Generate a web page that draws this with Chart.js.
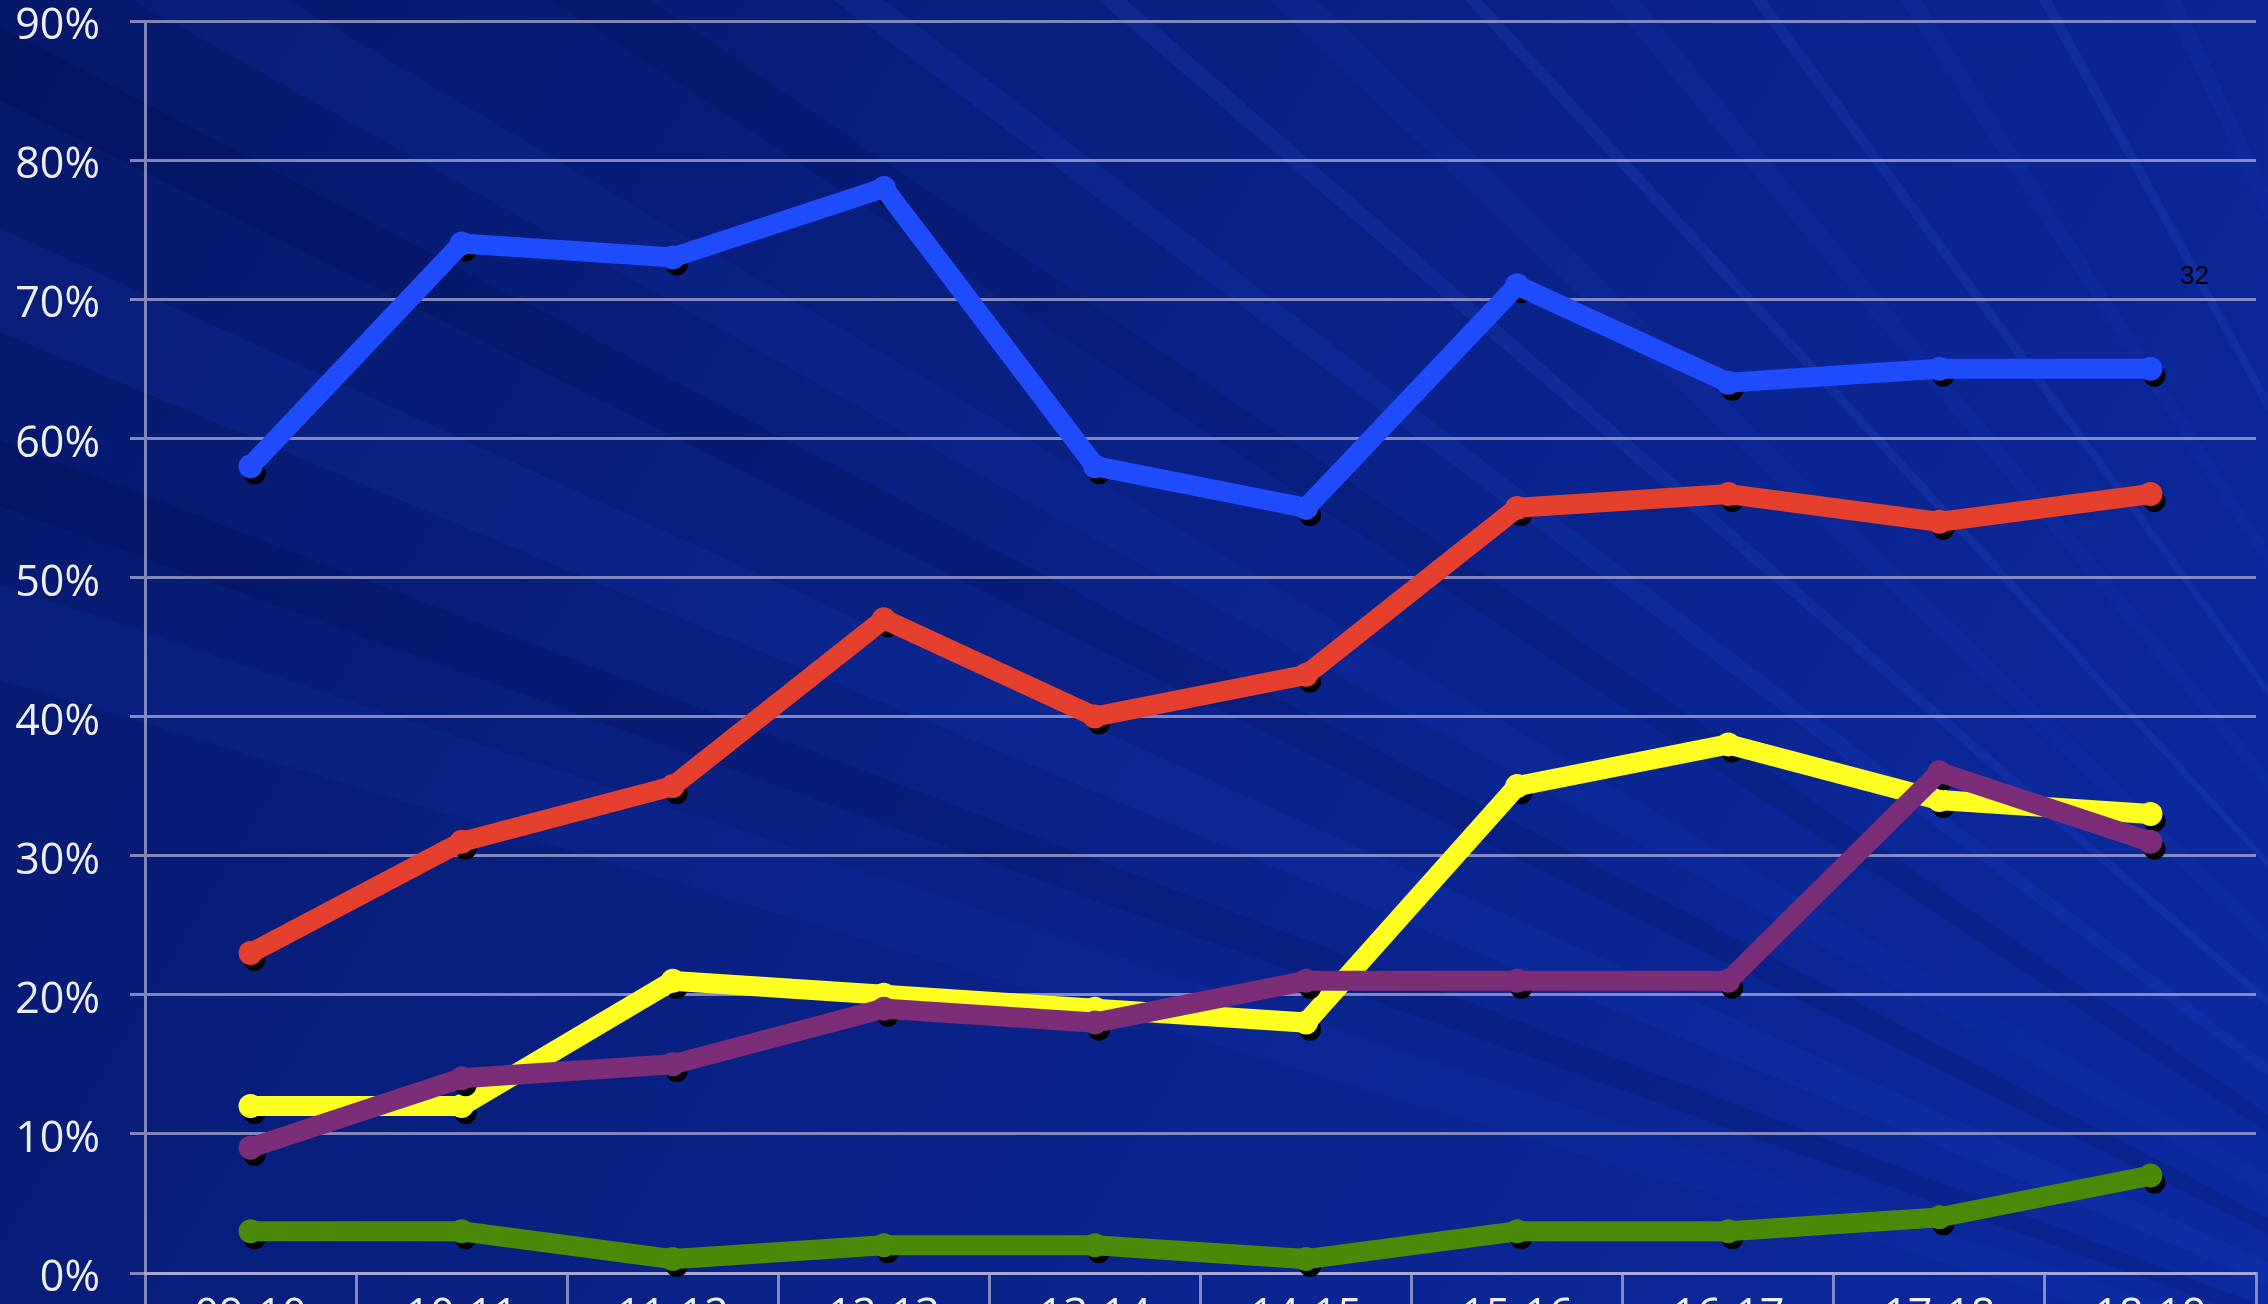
<!DOCTYPE html>
<html>
<head>
<meta charset="utf-8">
<script src="https://cdn.jsdelivr.net/npm/chart.js@4.4.1/dist/chart.umd.min.js"></script>
<style>
  html, body { margin: 0; padding: 0; overflow: hidden; background: #081e80; }
  #myChart { display: block; }
</style>
</head>
<body>
<canvas id="myChart" width="2268" height="1360"></canvas>
<script>
const seasons = ["09-10", "10-11", "11-12", "12-13", "13-14", "14-15", "15-16", "16-17", "17-18", "18-19"];

const blueValues = [58, 74, 73, 78, 58, 55, 71, 64, 65, 65];
const redValues = [23, 31, 35, 47, 40, 43, 55, 56, 54, 56];
const yellowValues = [12, 12, 21, 20, 19, 18, 35, 38, 34, 33];
const purpleValues = [9, 14, 15, 19, 18, 21, 21, 21, 36, 31];
const greenValues = [3, 3, 1, 2, 2, 1, 3, 3, 4, 7];

const yTicks = [0, 10, 20, 30, 40, 50, 60, 70, 80, 90];
const pageNumber = "32";

const gridColor = "rgba(185, 180, 215, 0.7)";
const fontFamily = "'Open Sans', 'DejaVu Sans', sans-serif";
const labelFont = { family: fontFamily, size: 43, lineHeight: 1 };

function series(values, color) {
  return {
    data: values,
    borderColor: color,
    backgroundColor: color,
    borderWidth: 20,
    pointRadius: 12,
    pointBorderWidth: 0,
    pointHoverRadius: 12,
    tension: 0,
  };
}

// slide background: dark blue with light streaks fanning out of the lower right
const backdrop = {
  id: "backdrop",
  beforeDraw(chart) {
    const c = chart.ctx;
    const w = chart.width, h = chart.height;
    c.save();
    const g = c.createLinearGradient(0, 0, w, h);
    g.addColorStop(0, "#06186a");
    g.addColorStop(0.5, "#0a2288");
    g.addColorStop(1, "#0c2ba2");
    c.fillStyle = g;
    c.fillRect(0, 0, w, h);

    const ox = 2900, oy = 1550;
    // [slope, width (rad), colour]
    const rays = [
      [0.30, 0.030, "rgba(30,70,220,0.10)"],
      [0.36, 0.020, "rgba(0,0,40,0.12)"],
      [0.42, 0.030, "rgba(30,70,220,0.12)"],
      [0.50, 0.020, "rgba(0,0,40,0.12)"],
      [0.56, 0.025, "rgba(30,70,220,0.10)"],
      [0.66, 0.020, "rgba(0,0,40,0.10)"],
      [0.75, 0.012, "rgba(50,100,255,0.10)"],
      [0.86, 0.008, "rgba(60,110,255,0.11)"],
      [0.95, 0.015, "rgba(40,80,230,0.08)"],
      [1.08, 0.006, "rgba(70,120,255,0.11)"],
      [1.20, 0.012, "rgba(40,80,230,0.08)"],
      [1.35, 0.006, "rgba(70,120,255,0.10)"],
      [1.55, 0.010, "rgba(40,80,230,0.08)"],
      [1.80, 0.006, "rgba(70,120,255,0.10)"],
      [2.10, 0.010, "rgba(40,80,230,0.08)"],
      [2.50, 0.006, "rgba(70,120,255,0.10)"],
      [3.20, 0.010, "rgba(40,80,230,0.08)"],
    ];
    rays.forEach(([s, width, color]) => {
      const a1 = Math.PI + Math.atan(s), a2 = a1 + width;
      c.beginPath();
      c.moveTo(ox, oy);
      c.lineTo(ox + Math.cos(a1) * 6000, oy + Math.sin(a1) * 6000);
      c.lineTo(ox + Math.cos(a2) * 6000, oy + Math.sin(a2) * 6000);
      c.closePath();
      c.fillStyle = color;
      c.fill();
    });
    c.restore();
  },
  afterDraw(chart) {
    const c = chart.ctx;
    c.save();
    // y labels sit a little below their gridlines in the original
    const y = chart.scales.y;
    c.fillStyle = "#eeeef6";
    c.font = labelFont.size + "px " + fontFamily;
    c.textAlign = "right";
    c.textBaseline = "middle";
    y.ticks.forEach((t) => {
      c.fillText(t.value + "%", 100, y.getPixelForValue(t.value) + 6);
    });

    c.fillStyle = "#000";
    c.font = "26px 'Liberation Sans', Arial, sans-serif";
    c.textAlign = "left";
    c.textBaseline = "alphabetic";
    c.fillText(pageNumber, 2180, 284);
    c.restore();
  },
};

// black drop shadow under each marker
const markerShadow = {
  id: "markerShadow",
  beforeDatasetDraw(chart, args) {
    const meta = chart.getDatasetMeta(args.index);
    const c = chart.ctx;
    c.save();
    c.fillStyle = "#000";
    meta.data.forEach((pt) => {
      c.beginPath();
      c.arc(pt.x + 4, pt.y + 7, 11, 0, Math.PI * 2);
      c.fill();
    });
    c.restore();
  },
};

const ctx = document.getElementById("myChart").getContext("2d");
const myChart = new Chart(ctx, {
  type: "line",
  data: {
    labels: seasons,
    datasets: [
      series(blueValues, "#1f4cff"),
      series(redValues, "#e53f2e"),
      series(purpleValues, "#7b2d78"),
      series(yellowValues, "#ffff22"),
      series(greenValues, "#4a8a08"),
    ],
  },
  options: {
    responsive: false,
    animation: false,
    layout: { padding: { top: 0, right: 9, left: 0, bottom: 0 } },
    plugins: {
      legend: { display: false },
      tooltip: { enabled: false },
    },
    scales: {
      x: {
        offset: true,
        grid: {
          offset: true,
          drawOnChartArea: false,
          drawTicks: true,
          tickLength: 40,
          color: gridColor,
          lineWidth: 3,
        },
        border: { color: gridColor, width: 3 },
        ticks: { color: "#f0f0f8", font: labelFont, padding: -18, maxRotation: 0 },
        afterFit(scale) { scale.height = 1360 - 1273; },
      },
      y: {
        min: 0,
        max: 90,
        afterBuildTicks(scale) { scale.ticks = yTicks.map((v) => ({ value: v })); },
        grid: { color: gridColor, lineWidth: 3, tickLength: 15 },
        border: { color: gridColor, width: 3 },
        ticks: {
          color: "rgba(0,0,0,0)",
          font: labelFont,
          padding: 30,
          callback: (v) => v + "%",
        },
        afterFit(scale) {
          scale.width = 145;
          scale.paddingTop = 21;
          scale.paddingBottom = 0;
        },
      },
    },
  },
  plugins: [backdrop, markerShadow],
});
</script>
</body>
</html>
